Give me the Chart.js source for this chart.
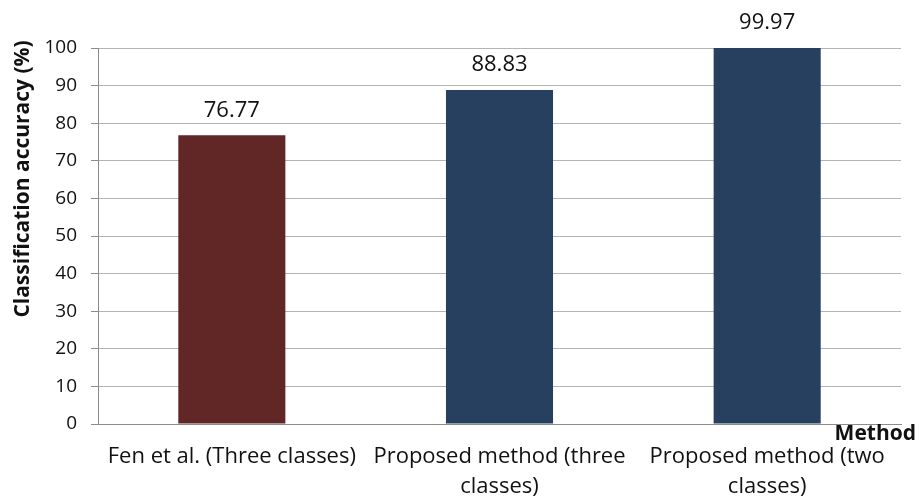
<!DOCTYPE html>
<html><head><meta charset="utf-8">
<script src="https://cdn.jsdelivr.net/npm/chart.js@4.4.1/dist/chart.umd.min.js"></script>
<style>html,body{margin:0;padding:0;background:#fff}#wrap{width:919px;height:500px}</style>
</head><body><div id="wrap"><canvas id="c" width="919" height="500"></canvas></div>
<script>
const categories = ["Fen et al. (Three classes)", ["Proposed method (three", "classes)"], ["Proposed method (two", "classes)"]];
const accuracy = [76.77, 88.83, 99.97];
const barColors = ["#612626", "#27405f", "#27405f"];
const yTicks = [0,10,20,30,40,50,60,70,80,90,100];
const FONT = "'Open Sans', sans-serif";

const extras = {
  id: 'extras',
  afterDatasetsDraw(chart) {
    const ctx = chart.ctx;
    const meta = chart.getDatasetMeta(0);
    ctx.save();
    ctx.fillStyle = '#111';
    ctx.font = "22px " + FONT;
    ctx.textAlign = 'center';
    ctx.textBaseline = 'middle';
    meta.data.forEach((bar, i) => {
      ctx.fillText(accuracy[i].toFixed(2), bar.x, bar.y - 25);
    });
    ctx.font = "bold 21px " + FONT;
    ctx.textAlign = 'right';
    ctx.fillText('Method', 916, 434);
    ctx.translate(23, 179);
    ctx.rotate(-Math.PI / 2);
    ctx.textAlign = 'center';
    ctx.fillText('Classification accuracy (%)', 0, 0);
    ctx.restore();
  }
};

new Chart(document.getElementById('c'), {
  type: 'bar',
  data: { labels: categories, datasets: [{ data: accuracy, backgroundColor: barColors, borderWidth: 0, categoryPercentage: 1, barPercentage: 0.4 }] },
  options: {
    responsive: false, animation: false,
    layout: { padding: { top: 48, right: 18, left: 0, bottom: 0 } },
    plugins: { legend: { display: false }, tooltip: { enabled: false } },
    scales: {
      x: {
        afterFit(s) { s.height = 76; },
        grid: { display: false, drawTicks: false },
        border: { color: '#8c8c8c', width: 1 },
        ticks: { color: '#111', padding: 17, maxRotation: 0, autoSkip: false, font: { family: FONT, size: 22, lineHeight: 1.4 } }
      },
      y: {
        min: 0, max: 100,
        afterFit(s) { s.width = 98; },
        afterBuildTicks(s) { s.ticks = yTicks.map(v => ({ value: v })); },
        grid: { color: '#b4b4b4', tickLength: 7, tickColor: '#8c8c8c' },
        border: { color: '#8c8c8c', width: 1 },
        ticks: { color: '#111', padding: 14, font: { family: FONT, size: 19 } }
      }
    }
  },
  plugins: [extras]
});
</script></body></html>
